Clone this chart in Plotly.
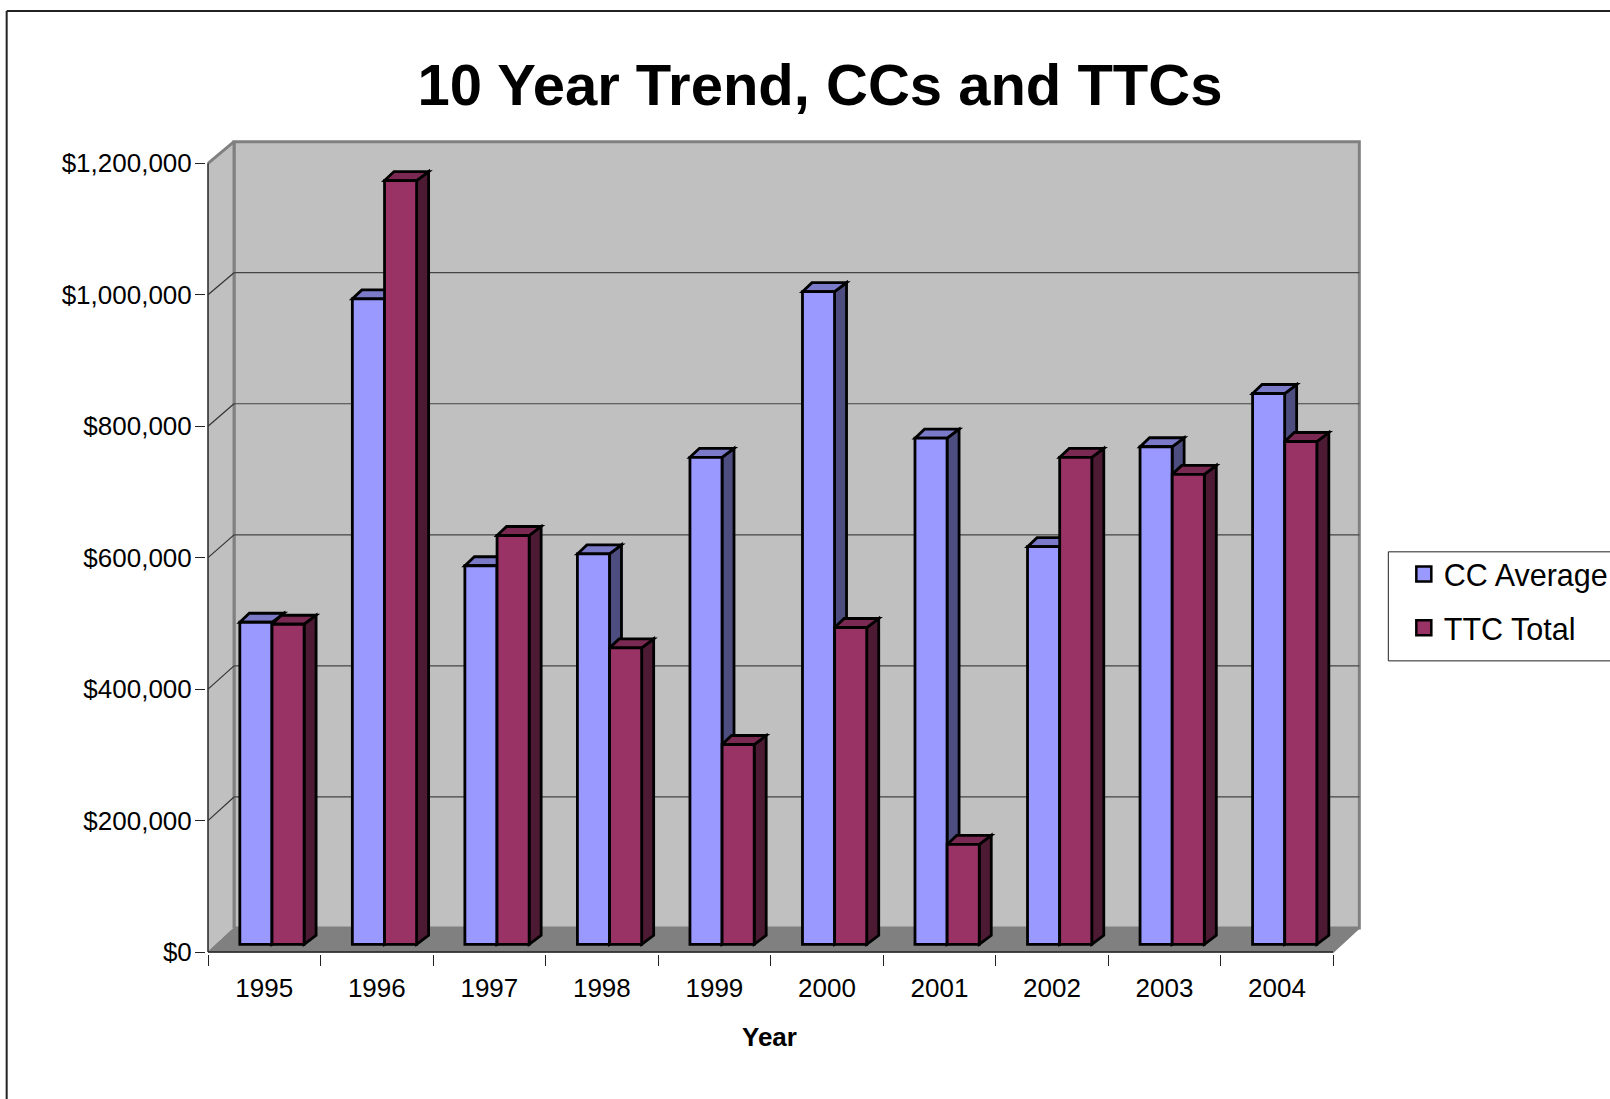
import plotly.graph_objects as go

years = ["1995", "1996", "1997", "1998", "1999", "2000", "2001", "2002", "2003", "2004"]
cc_average = [490000, 982000, 576000, 594000, 741000, 993000, 770000, 605000, 757000, 838000]
ttc_total = [487000, 1162000, 622000, 451000, 304000, 482000, 152000, 741000, 715000, 765000]
y_ticks = [0, 200000, 400000, 600000, 800000, 1000000, 1200000]

CC_FRONT, CC_TOP, CC_SIDE = "#9999FF", "#7A7AC9", "#4D4D80"
TTC_FRONT, TTC_TOP, TTC_SIDE = "#993366", "#7A2952", "#4D1A33"
WALL, FLOOR, EDGE = "#C0C0C0", "#808080", "#808080"
FONT = "Liberation Sans, Arial, sans-serif"

W, H = 1610, 1099
PX_X = 112.5            # pixels per category
PX_Y = 657e-6           # pixels per dollar
DEPTH_X, DEPTH_Y = 26 / PX_X, 24 / PX_Y
BACK_SCALE = 0.997
BAR_W, BAR_DX, BAR_DX_L, BAR_DY = 0.285, 12 / PX_X, 9.5 / PX_X, 9 / PX_Y
BASE = 7.7 / PX_Y
CC_OFF, TTC_OFF = -0.2174, 0.0686
BAR_LINE = 2.8

X0, X1 = -0.5, 9.5
TOP = y_ticks[-1]
x_lo, x_hi = -0.518, 9.755
y_lo, y_hi = -3000, 1240000
left = 208.3 - 0.018 * PX_X
bottom_px = 951.7 + 2
top_px = bottom_px - (y_hi - y_lo) * PX_Y
right_px = left + (x_hi - x_lo) * PX_X


def poly(points, fill, line="black", width=BAR_LINE):
    path = "M" + " L".join(f"{x},{y}" for x, y in points) + " Z"
    return dict(type="path", xref="x", yref="y", path=path, fillcolor=fill,
                line=dict(color=line, width=width), layer="below")


def seg(x0, y0, x1, y1, color, width):
    return dict(type="line", xref="x", yref="y", x0=x0, y0=y0, x1=x1, y1=y1,
                line=dict(color=color, width=width), layer="below")


def back(v):
    return DEPTH_Y + v * BACK_SCALE


def paper_x(px):
    return (px - left) / (right_px - left)


def paper_y(py):
    return (bottom_px - py) / (bottom_px - top_px)


shapes = []
bx0, bx1 = X0 + DEPTH_X, X1 + DEPTH_X
shapes.append(poly([(bx0, back(0)), (bx0, back(TOP)), (bx1, back(TOP)), (bx1, back(0))], WALL, EDGE, 3))
shapes.append(poly([(X0, 0), (X0, TOP), (bx0, back(TOP)), (bx0, back(0))], WALL, EDGE, 1))
shapes.append(poly([(X0, 0), (bx0, back(0)), (bx1, back(0)), (X1, 0)], FLOOR, FLOOR, 1))
shapes.append(seg(bx0, back(0), bx0, back(TOP), EDGE, 3))
shapes.append(seg(X0, TOP, bx0, back(TOP), EDGE, 3))
for v in y_ticks[1:-1]:
    shapes.append(seg(X0, v, bx0, back(v), "#333333", 1.2))
    shapes.append(seg(bx0, back(v), bx1, back(v), "#444444", 1.2))
shapes.append(seg(X0, 0, X0, TOP, "#333333", 1.5))
shapes.append(seg(X0, 0, X1, 0, "#222222", 1.5))
shapes.append(seg(X1, 0, bx1, back(0), EDGE, 1.5))

for values, off, top_c, side_c in [(cc_average, CC_OFF, CC_TOP, CC_SIDE),
                                   (ttc_total, TTC_OFF, TTC_TOP, TTC_SIDE)]:
    for i, v in enumerate(values):
        l, r = i + off, i + off + BAR_W
        t = BASE + v
        shapes.append(poly([(r, BASE), (r + BAR_DX, BASE + BAR_DY),
                            (r + BAR_DX, t + BAR_DY), (r, t)], side_c))
        shapes.append(poly([(l, t), (l + BAR_DX_L, t + BAR_DY),
                            (r + BAR_DX, t + BAR_DY), (r, t)], top_c))

# outer chart border, running off the right and bottom of the page
for a, b, c, d in [(7, H + 5, 7, 11), (7, 11, W + 5, 11)]:
    shapes.append(dict(type="line", xref="paper", yref="paper",
                       x0=paper_x(a), y0=paper_y(b), x1=paper_x(c), y1=paper_y(d),
                       line=dict(color="#222222", width=2)))

# legend box, running off the right edge of the page
shapes.append(dict(type="rect", xref="paper", yref="paper", layer="above",
                   x0=paper_x(1388.3), x1=paper_x(W + 5), y0=paper_y(660.7), y1=paper_y(551.7),
                   fillcolor="white", line=dict(color="#222222", width=1)))

fig = go.Figure()
fig.add_bar(name="CC Average", x=years, y=cc_average, base=BASE, offset=CC_OFF, width=BAR_W,
            legendgroup="cc", showlegend=False,
            marker=dict(color=CC_FRONT, line=dict(color="black", width=BAR_LINE)))
fig.add_bar(name="TTC Total", x=years, y=ttc_total, base=BASE, offset=TTC_OFF, width=BAR_W,
            legendgroup="ttc", showlegend=False,
            marker=dict(color=TTC_FRONT, line=dict(color="black", width=BAR_LINE)))
# legend keys: larger square swatches than bar traces allow
for name, group, color in [("CC Average", "cc", CC_FRONT), ("TTC Total", "ttc", TTC_FRONT)]:
    fig.add_scatter(name=name, x=[None], y=[None], mode="markers", legendgroup=group,
                    marker=dict(symbol="square", size=15, color=color, line=dict(color="black", width=2.5)))

fig.update_layout(
    width=W, height=H, autosize=False, barmode="overlay",
    paper_bgcolor="white", plot_bgcolor="white",
    margin=dict(l=left, r=W - right_px, t=top_px, b=H - bottom_px, pad=0, autoexpand=False),
    font=dict(family=FONT, color="black", size=26),
    title=dict(text="<b>10 Year Trend, CCs and TTCs</b>", font=dict(size=58, family=FONT, color="black"),
               x=820 / W, xanchor="center", xref="container",
               y=1 - 85 / H, yanchor="middle"),
    xaxis=dict(type="category", range=[x_lo, x_hi], categoryorder="array", categoryarray=years,
               tickson="boundaries", ticks="outside", ticklen=11, tickwidth=1, tickcolor="#222222",
               showgrid=False, zeroline=False, showline=False, tickangle=0,
               tickfont=dict(size=26), ticklabelstandoff=16),
    yaxis=dict(range=[y_lo, y_hi], tickmode="array", tickvals=y_ticks, tickformat="$,.0f",
               ticks="outside", ticklen=10, tickwidth=1, tickcolor="#222222",
               showgrid=False, zeroline=False, showline=False, tickfont=dict(size=26),
               ticklabelstandoff=-2),
    legend=dict(x=paper_x(1389.3), xanchor="left", y=paper_y(547.6), yanchor="top",
                bgcolor="rgba(0,0,0,0)", borderwidth=0,
                font=dict(size=30.5, family=FONT), itemwidth=30, indentation=14.5,
                tracegroupgap=11, itemclick=False, itemdoubleclick=False),
    shapes=shapes,
    annotations=[dict(text="<b>Year</b>", xref="paper", yref="paper", x=paper_x(770), y=paper_y(1037),
                      xanchor="center", yanchor="middle", showarrow=False, font=dict(size=26, family=FONT))],
)

fig.write_html("out.html", config=dict(displayModeBar=False),
               post_script="document.body.style.margin='0';")
